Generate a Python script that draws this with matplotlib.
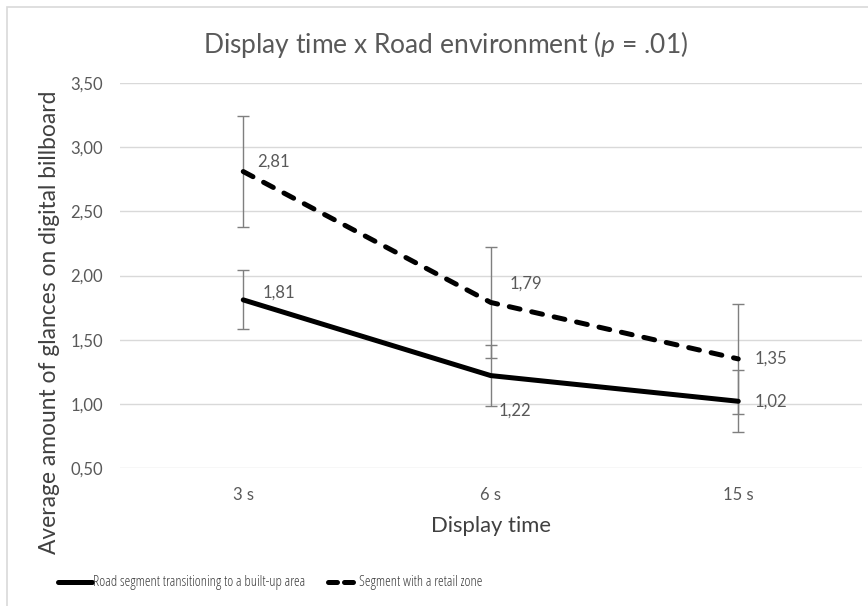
import matplotlib
matplotlib.use("Agg")
import matplotlib.pyplot as plt
from matplotlib.patches import Rectangle
from matplotlib.lines import Line2D

categories = ["3 s", "6 s", "15 s"]
built_up = [1.81, 1.22, 1.02]
retail = [2.81, 1.79, 1.35]
built_up_err = [0.23, 0.24, 0.24]
retail_err = [0.43, 0.43, 0.43]
built_up_labels = ["1,81", "1,22", "1,02"]
retail_labels = ["2,81", "1,79", "1,35"]
yticks = [0.5, 1.0, 1.5, 2.0, 2.5, 3.0, 3.5]
ytick_labels = ["0,50", "1,00", "1,50", "2,00", "2,50", "3,00", "3,50"]

plt.rcParams['font.family'] = ['Lato', 'DejaVu Sans']
plt.rcParams['mathtext.fontset'] = 'custom'
plt.rcParams['mathtext.rm'] = 'Lato'
plt.rcParams['mathtext.it'] = 'Lato:italic'

W, H = 868, 606
fig = plt.figure(figsize=(W / 100, H / 100), dpi=100)
fig.patches.append(Rectangle((7 / W, -0.1), 1.2, 1 - 7 / H + 0.1, transform=fig.transFigure,
                             fill=False, edgecolor='#d9d9d9', linewidth=1.2))

ax = fig.add_axes([119.5 / W, (H - 468) / H, 742.5 / W, 385 / H])
x = list(range(len(categories)))

grid_c = '#d9d9d9'
for yv in yticks:
    ax.axhline(yv, color=grid_c, lw=1, zorder=0)

err_c = '#7f7f7f'
ax.errorbar(x, retail, yerr=retail_err, fmt='none', ecolor=err_c, elinewidth=1, capsize=4, capthick=1, zorder=2)
ax.errorbar(x, built_up, yerr=built_up_err, fmt='none', ecolor=err_c, elinewidth=1, capsize=4, capthick=1, zorder=2)

LW = 3.6
ax.plot(x, built_up, color='black', lw=LW, solid_capstyle='round', solid_joinstyle='round', zorder=3)
ax.plot(x, retail, color='black', lw=LW, dashes=(2.2, 2.4), dash_capstyle='round', zorder=3)

lab_c = '#595959'
fs = 12
# data label offsets (points)
offs_r = [(10, 7), (13.7, 13.7), (12, 0)]
offs_b = [(13.7, 5), (5.8, -25), (12, 0)]
for i in x:
    dx, dy = offs_r[i]
    ax.annotate(retail_labels[i], (i, retail[i]), xytext=(dx, dy), textcoords='offset points',
                ha='left', va='center', fontsize=fs, color=lab_c, zorder=4)
    dx, dy = offs_b[i]
    ax.annotate(built_up_labels[i], (i, built_up[i]), xytext=(dx, dy), textcoords='offset points',
                ha='left', va='center', fontsize=fs, color=lab_c, zorder=4)

ax.set_xlim(-0.5, 2.5)
ax.set_ylim(0.5, 3.5)
ax.set_yticks(yticks)
ax.set_yticklabels(ytick_labels)
ax.set_xticks(x)
ax.set_xticklabels(categories)
ax.tick_params(length=0, labelsize=fs, labelcolor=lab_c, pad=12)
ax.tick_params(axis='x', pad=14)
for s in ax.spines.values():
    s.set_visible(False)
ax.patch.set_alpha(0)

ax.set_xlabel("Display time", fontsize=15.8, color='#404040', labelpad=9)
fig.text(50 / W, 1 - 322 / H, "Average amount of glances on digital billboard", rotation=90,
         ha='center', va='center', fontsize=16.4, color='#404040')

fig.text(446 / W, 1 - 44 / H, r"Display time x Road environment ($p$ = .01)",
         ha='center', va='center', fontsize=19, color='#595959')

# legend
leg_y = 1 - 582 / H
leg_font = dict(family='Open Sans', fontstretch='condensed', fontsize=10.5, color='#404040',
                ha='left', va='center')
fig.add_artist(Line2D([58 / W, 92 / W], [leg_y, leg_y], color='black', lw=LW, solid_capstyle='round'))
fig.text(93 / W, leg_y, "Road segment transitioning to a built-up area", **leg_font)
fig.add_artist(Line2D([328 / W, 357 / W], [leg_y, leg_y], color='black', lw=LW, dashes=(1.8, 1.4),
                      dash_capstyle='round'))
fig.text(359 / W, leg_y, "Segment with a retail zone", **leg_font)

fig.savefig("out.png", dpi=100)
